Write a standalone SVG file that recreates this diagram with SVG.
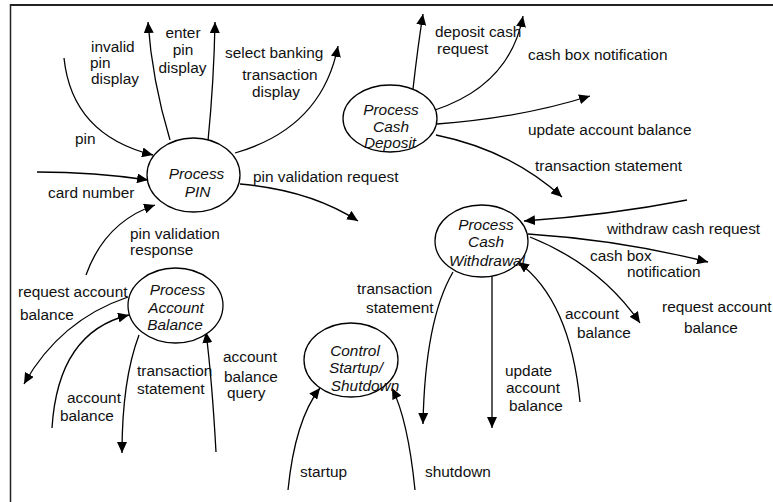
<svg xmlns="http://www.w3.org/2000/svg" width="773" height="502" viewBox="0 0 773 502">
<style>
  .t{font-family:"Liberation Sans",Arial,sans-serif;font-size:15.4px;fill:#111}
  .n{font-family:"Liberation Sans",Arial,sans-serif;font-size:15.4px;font-style:italic;fill:#111;text-anchor:middle}
  .e{fill:#fff;stroke:#000;stroke-width:1.3}
  .c{fill:none;stroke:#000;stroke-width:1.3;marker-end:url(#ah)}
  .m{text-anchor:middle}
</style>
<defs>
  <marker id="ah" markerUnits="userSpaceOnUse" markerWidth="12" markerHeight="10" refX="11" refY="5" orient="auto">
    <path d="M0,0 L11,5 L0,10 z" fill="#000"/>
  </marker>
</defs>
<rect x="0" y="0" width="773" height="502" fill="#fff"/>
<g id="frame" stroke="#222" fill="none">
  <line x1="10" y1="5" x2="773" y2="5" stroke-width="2"/>
  <line x1="10.5" y1="4" x2="10.5" y2="502" stroke-width="1.5"/>
</g>

<g id="connectors">
  <path class="c" d="M64,58 Q72,135 153,155"/>
  <path class="c" d="M170,140 Q152,80 148,22"/>
  <path class="c" d="M208,141 Q214,80 215,22"/>
  <path class="c" d="M235,153 Q322,128 338,46"/>
  <path class="c" d="M37,172 Q95,172 148,180"/>
  <path class="c" d="M240,184 Q310,190 358,221"/>
  <path class="c" d="M86,275 Q105,222 155,205"/>
  <path class="c" d="M128,297 Q60,320 24,384"/>
  <path class="c" d="M52,428 Q58,332 129,315"/>
  <path class="c" d="M139,335 Q122,380 122,453"/>
  <path class="c" d="M216,452 Q212,380 206,332"/>
  <path class="c" d="M413,89 Q418,45 423,14"/>
  <path class="c" d="M435,110 Q510,85 523,16"/>
  <path class="c" d="M437,124 Q520,118 590,96"/>
  <path class="c" d="M436,135 Q510,150 562,197"/>
  <path class="c" d="M687,200 Q610,215 524,221"/>
  <path class="c" d="M528,234 Q620,240 708,262"/>
  <path class="c" d="M530,237 Q600,265 640,323"/>
  <path class="c" d="M580,402 Q570,300 518,262"/>
  <path class="c" d="M453,272 Q425,320 423,424"/>
  <path class="c" d="M492,267 L492,428"/>
  <path class="c" d="M288,490 Q295,420 320,388"/>
  <path class="c" d="M415,490 Q408,420 392,388"/>
</g>

<g id="process-pin">
  <ellipse class="e" cx="193.5" cy="175" rx="46.5" ry="37"/>
  <text class="n" x="196.5" y="179">Process</text>
  <text class="n" x="197.5" y="197">PIN</text>
</g>
<g id="process-cash-deposit">
  <ellipse class="e" cx="390" cy="118.5" rx="47" ry="33.5"/>
  <text class="n" x="391" y="115">Process</text>
  <text class="n" x="391" y="132">Cash</text>
  <text class="n" x="390" y="148">Deposit</text>
</g>
<g id="process-cash-withdrawal">
  <ellipse class="e" cx="481.5" cy="241" rx="46.5" ry="36"/>
  <text class="n" x="486" y="230">Process</text>
  <text class="n" x="486" y="247">Cash</text>
  <text class="n" x="487" y="266">Withdrawal</text>
</g>
<g id="process-account-balance">
  <ellipse class="e" cx="175.5" cy="305.5" rx="47.5" ry="37.5"/>
  <text class="n" x="177.5" y="295">Process</text>
  <text class="n" x="176" y="313">Account</text>
  <text class="n" x="175" y="330">Balance</text>
</g>
<g id="control-startup-shutdown">
  <ellipse class="e" cx="351" cy="360" rx="47" ry="37"/>
  <text class="n" x="355" y="356">Control</text>
  <text class="n" x="356" y="373">Startup/</text>
  <text class="n" x="365" y="391">Shutdown</text>
</g>

<g id="labels">
  <text class="t" x="91" y="52">invalid</text>
  <text class="t" x="90" y="68">pin</text>
  <text class="t" x="91" y="84">display</text>
  <text class="t m" x="183" y="38">enter</text>
  <text class="t m" x="183" y="55">pin</text>
  <text class="t m" x="182.5" y="73">display</text>
  <text class="t" x="225" y="58">select banking</text>
  <text class="t m" x="280" y="80">transaction</text>
  <text class="t m" x="276" y="97">display</text>
  <text class="t" x="75" y="144">pin</text>
  <text class="t" x="48" y="198">card number</text>
  <text class="t" x="253" y="182">pin validation request</text>
  <text class="t" x="130" y="239">pin validation</text>
  <text class="t" x="130" y="255">response</text>
  <text class="t" x="18" y="297">request account</text>
  <text class="t" x="20" y="320">balance</text>
  <text class="t" x="67" y="403">account</text>
  <text class="t" x="60" y="421">balance</text>
  <text class="t" x="137" y="376">transaction</text>
  <text class="t" x="137" y="394">statement</text>
  <text class="t" x="223" y="362">account</text>
  <text class="t" x="224" y="382">balance</text>
  <text class="t" x="227" y="398">query</text>
  <text class="t" x="435" y="37">deposit cash</text>
  <text class="t" x="437" y="54">request</text>
  <text class="t" x="528" y="60">cash box notification</text>
  <text class="t" x="528" y="135">update account balance</text>
  <text class="t" x="535" y="171">transaction statement</text>
  <text class="t" x="607" y="234">withdraw cash request</text>
  <text class="t" x="590" y="261">cash box</text>
  <text class="t" x="627" y="277">notification</text>
  <text class="t" x="662" y="312">request account</text>
  <text class="t" x="684" y="333">balance</text>
  <text class="t" x="565" y="319">account</text>
  <text class="t" x="577" y="338">balance</text>
  <text class="t" x="505" y="376">update</text>
  <text class="t" x="506" y="393">account</text>
  <text class="t" x="509" y="411">balance</text>
  <text class="t" x="357" y="294">transaction</text>
  <text class="t" x="366" y="313">statement</text>
  <text class="t" x="300" y="477">startup</text>
  <text class="t" x="425" y="477">shutdown</text>
</g>
</svg>
